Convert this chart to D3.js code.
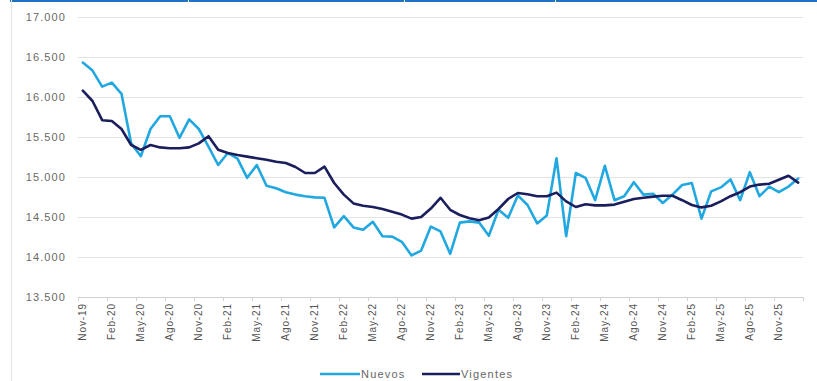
<!DOCTYPE html>
<html>
<head>
<meta charset="utf-8">
<script src="https://cdn.jsdelivr.net/npm/d3@7/dist/d3.min.js"></script>
<style>
  html, body { margin: 0; padding: 0; background: #ffffff; }
  svg { display: block; }
  text { font-family: "Liberation Sans", Arial, sans-serif; fill: #595959; }
</style>
</head>
<body>
<svg id="chart" width="817" height="381"></svg>
<script>
// Monthly categories, Nov-19 to Jan-26
const months = [
  "Nov-19","Dic-19",
  "Ene-20","Feb-20","Mar-20","Abr-20","May-20","Jun-20","Jul-20","Ago-20","Sep-20","Oct-20","Nov-20","Dic-20",
  "Ene-21","Feb-21","Mar-21","Abr-21","May-21","Jun-21","Jul-21","Ago-21","Sep-21","Oct-21","Nov-21","Dic-21",
  "Ene-22","Feb-22","Mar-22","Abr-22","May-22","Jun-22","Jul-22","Ago-22","Sep-22","Oct-22","Nov-22","Dic-22",
  "Ene-23","Feb-23","Mar-23","Abr-23","May-23","Jun-23","Jul-23","Ago-23","Sep-23","Oct-23","Nov-23","Dic-23",
  "Ene-24","Feb-24","Mar-24","Abr-24","May-24","Jun-24","Jul-24","Ago-24","Sep-24","Oct-24","Nov-24","Dic-24",
  "Ene-25","Feb-25","Mar-25","Abr-25","May-25","Jun-25","Jul-25","Ago-25","Sep-25","Oct-25","Nov-25","Dic-25",
  "Ene-26"
];

const nuevos = [
  16430, 16330,
  16130, 16180, 16040, 15420, 15260, 15600, 15760, 15760, 15490, 15720, 15600, 15380,
  15150, 15300, 15230, 14990, 15150, 14890, 14860, 14810, 14780, 14760, 14745, 14740,
  14370, 14510, 14370, 14340, 14440, 14260, 14255, 14190, 14020, 14080, 14380, 14320,
  14040, 14430, 14445, 14430, 14265, 14590, 14490, 14770, 14650, 14420, 14520, 15235,
  14260, 15050, 14990, 14710, 15140, 14710, 14760, 14935, 14780, 14790, 14675, 14780,
  14900, 14925, 14480, 14820, 14870, 14970, 14710, 15060, 14760, 14880, 14810, 14880,
  14980
];

const vigentes = [
  16080, 15950,
  15710, 15700, 15600, 15400, 15340, 15400, 15370, 15360, 15360, 15370, 15420, 15510,
  15340, 15300, 15275, 15255, 15235, 15215, 15190, 15175, 15125, 15050, 15050, 15130,
  14925, 14780, 14670, 14640, 14625, 14600, 14565, 14530, 14480, 14500, 14605, 14740,
  14590, 14525, 14485, 14460, 14495, 14600, 14725, 14800, 14785, 14760, 14760, 14805,
  14695, 14625, 14660, 14645, 14645, 14655, 14690, 14725, 14740, 14755, 14765, 14765,
  14710, 14650, 14620, 14640, 14695, 14760, 14810, 14880, 14905, 14915, 14965, 15015,
  14930
];

const yTicks = [13500, 14000, 14500, 15000, 15500, 16000, 16500, 17000];
const xTickLabels = ["Nov-19","Feb-20","May-20","Ago-20","Nov-20","Feb-21","May-21","Ago-21","Nov-21",
  "Feb-22","May-22","Ago-22","Nov-22","Feb-23","May-23","Ago-23","Nov-23","Feb-24","May-24","Ago-24",
  "Nov-24","Feb-25","May-25","Ago-25","Nov-25"];

const seriesNames = ["Nuevos", "Vigentes"];
const seriesColors = ["#22a8e1", "#1b1e5c"];

const svg = d3.select("#chart");

const plot = { left: 78, right: 803, top: 17, bottom: 297 };

const x = d3.scaleBand().domain(months).range([plot.left, plot.right]).padding(0);
const y = d3.scaleLinear().domain([13500, 17000]).range([plot.bottom, plot.top]);

const es = d3.formatLocale({ decimal: ",", thousands: ".", grouping: [3], currency: ["", "€"] });
const fmt = es.format(",.0f");

// Frame: blue rule along the top, faint rule on the left
const topSegments = [[10, 188], [189, 404], [405, 555], [556, 817]];
svg.selectAll("rect.topbar").data(topSegments).enter().append("rect")
  .attr("class", "topbar")
  .attr("x", d => d[0]).attr("y", 0)
  .attr("width", d => d[1] - d[0]).attr("height", 2)
  .attr("fill", "#1f73c0");
svg.append("line")
  .attr("x1", 11.5).attr("x2", 11.5).attr("y1", 0).attr("y2", 381)
  .attr("stroke", "#e4e4e4").attr("stroke-width", 1);

// Horizontal gridlines
svg.append("g").selectAll("line").data(yTicks.filter(v => v !== 13500)).enter().append("line")
  .attr("x1", plot.left).attr("x2", plot.right)
  .attr("y1", d => Math.round(y(d)) + 0.5).attr("y2", d => Math.round(y(d)) + 0.5)
  .attr("stroke", "#e3e3e3").attr("stroke-width", 1);

// Y axis labels
const yAxis = svg.append("g")
  .attr("transform", `translate(${plot.left},0)`)
  .call(d3.axisLeft(y).tickValues(yTicks).tickFormat(fmt).tickSize(0).tickPadding(12));
yAxis.select(".domain").remove();
yAxis.selectAll("text")
  .style("font-size", "11px").style("letter-spacing", "1.1px")
  .style("fill", "#6a6a6a").attr("font-family", null);

// X axis: baseline, category tick marks, rotated labels
const xAxis = svg.append("g")
  .attr("transform", `translate(0,${plot.bottom})`)
  .call(d3.axisBottom(x).tickValues(xTickLabels).tickSize(0).tickSizeOuter(0).tickPadding(0));
xAxis.select(".domain").attr("stroke", "#cfcfcf").attr("stroke-width", 1);
xAxis.selectAll("text")
  .attr("transform", "rotate(-90)")
  .attr("text-anchor", "end")
  .attr("x", -6).attr("y", 0).attr("dy", "0.35em")
  .style("font-size", "10px").style("letter-spacing", "0.9px")
  .style("fill", "#555555");

svg.append("g").selectAll("line").data(months.filter((m, i) => i % 3 === 0).concat([null])).enter().append("line")
  .attr("x1", (d, i) => Math.round(plot.left + i * 3 * x.bandwidth()) + 0.5)
  .attr("x2", (d, i) => Math.round(plot.left + i * 3 * x.bandwidth()) + 0.5)
  .attr("y1", plot.bottom).attr("y2", plot.bottom + 4)
  .attr("stroke", "#d4d4d4").attr("stroke-width", 1);

// Series lines
const line = d3.line()
  .x((d, i) => x(months[i]) + x.bandwidth() / 2)
  .y(d => y(d));

[nuevos, vigentes].forEach((vals, k) => {
  svg.append("path")
    .datum(vals)
    .attr("fill", "none")
    .attr("stroke", seriesColors[k])
    .attr("stroke-width", 2.6)
    .attr("stroke-linejoin", "round")
    .attr("stroke-linecap", "round")
    .attr("d", line);
});

// Legend
const legendItems = [
  { name: seriesNames[0], color: seriesColors[0], x0: 320, x1: 360, tx: 361 },
  { name: seriesNames[1], color: seriesColors[1], x0: 422, x1: 460, tx: 461 }
];
const legend = svg.append("g");
legendItems.forEach(it => {
  legend.append("line")
    .attr("x1", it.x0).attr("x2", it.x1).attr("y1", 374).attr("y2", 374)
    .attr("stroke", it.color).attr("stroke-width", 2.6);
  legend.append("text")
    .attr("x", it.tx).attr("y", 374).attr("dy", "0.35em")
    .style("font-size", "11px").style("letter-spacing", "1.2px")
    .style("fill", "#666666")
    .text(it.name);
});
</script>
</body>
</html>
